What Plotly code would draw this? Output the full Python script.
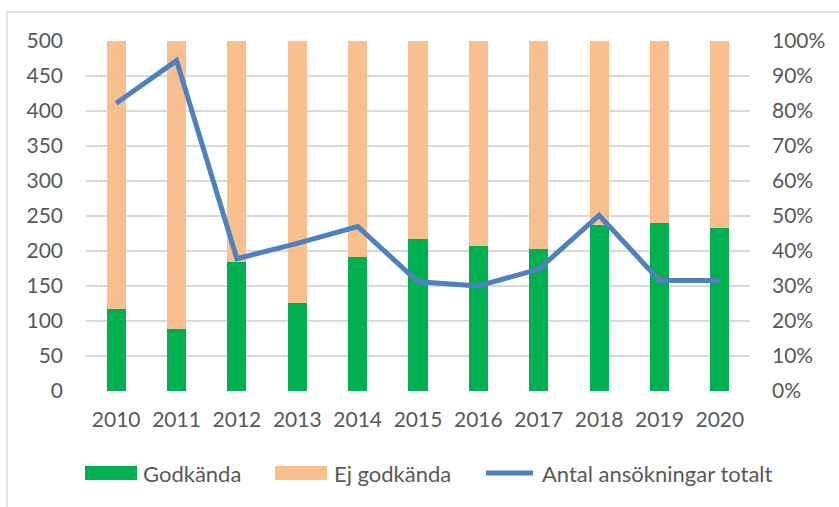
import plotly.graph_objects as go

years = ["2010", "2011", "2012", "2013", "2014", "2015", "2016", "2017", "2018", "2019", "2020"]
godkanda_pct = [23.4, 17.6, 36.8, 25.2, 38.2, 43.5, 41.5, 40.6, 47.3, 48.0, 46.7]
ej_godkanda_pct = [76.6, 82.4, 63.2, 74.8, 61.8, 56.5, 58.5, 59.4, 52.7, 52.0, 53.3]
antal_totalt = [411, 472, 189, 211, 235, 156, 150, 174, 251, 158, 158]

names = ["Godkända", "Ej godkända", "Antal ansökningar totalt"]
colors = ["#00b050", "#f9c08f", "#4f81bd"]

FONT = "Lato, Arial, sans-serif"
TXT = "#595959"
FS = 21

fig = go.Figure()
fig.add_trace(go.Bar(x=years, y=godkanda_pct, name=names[0], marker_color=colors[0],
                     marker_line_width=0, yaxis="y", showlegend=False))
fig.add_trace(go.Bar(x=years, y=ej_godkanda_pct, name=names[1], marker_color=colors[1],
                     marker_line_width=0, yaxis="y", showlegend=False))
fig.add_trace(go.Scatter(x=years, y=antal_totalt, name=names[2], mode="lines",
                         line=dict(color=colors[2], width=5), yaxis="y2", showlegend=False))

# plot area in pixels
L, R, T, B = 86, 750, 41, 391
W, H = 839, 507
pw, ph = R - L, B - T


def px(x):
    return (x - L) / pw


def py(y):
    return (B - y) / ph


shapes = [
    # outer chart frame
    dict(type="rect", xref="paper", yref="paper", x0=px(7), x1=px(900), y0=py(600), y1=py(12),
         line=dict(color="#d9d9d9", width=1.5), fillcolor="rgba(0,0,0,0)", layer="below"),
]
annotations = []

# custom legend
leg = [(85, 137, 141), (275, 327, 332), (483, 536, 540)]
for i, (x0, x1, tx) in enumerate(leg):
    if i < 2:
        shapes.append(dict(type="rect", xref="paper", yref="paper", x0=px(x0), x1=px(x1),
                           y0=py(480), y1=py(466), line=dict(width=0), fillcolor=colors[i]))
    else:
        shapes.append(dict(type="line", xref="paper", yref="paper", x0=px(x0 + 3), x1=px(x1 - 3),
                           y0=py(473), y1=py(473), line=dict(color=colors[i], width=5)))
    annotations.append(dict(xref="paper", yref="paper", x=px(tx), y=py(473), text=names[i],
                            showarrow=False, xanchor="left", yanchor="middle",
                            font=dict(family=FONT, size=22, color=TXT)))

fig.update_layout(
    width=W, height=H,
    margin=dict(l=L, r=W - R, t=T, b=H - B, autoexpand=False),
    paper_bgcolor="white", plot_bgcolor="white",
    barmode="stack", bargap=0.685,
    font=dict(family=FONT, size=FS, color=TXT),
    xaxis=dict(type="category", showgrid=False, showline=False, ticks="",
               tickfont=dict(family=FONT, size=FS, color=TXT), ticklabelstandoff=14),
    yaxis=dict(side="right", range=[0, 100], dtick=10, ticksuffix="%",
               showgrid=True, gridcolor="#d9d9d9", gridwidth=1.5, zeroline=False,
               showline=False, ticks="", ticklabelstandoff=21,
               tickfont=dict(family=FONT, size=FS, color=TXT)),
    yaxis2=dict(side="left", overlaying="y", range=[0, 500], dtick=50,
                showgrid=False, zeroline=False, showline=False, ticks="", ticklabelstandoff=22,
                tickfont=dict(family=FONT, size=FS, color=TXT)),
    shapes=shapes,
    annotations=annotations,
    showlegend=False,
)

fig.write_html("out.html", config={"displayModeBar": False},
               post_script="document.body.style.margin='0';")
